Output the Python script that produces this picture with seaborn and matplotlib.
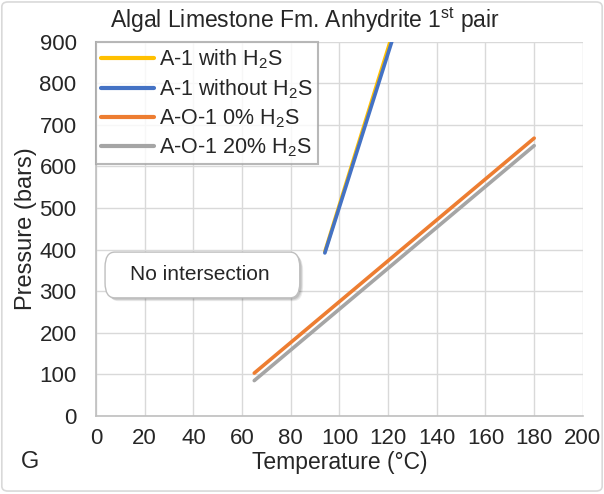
import numpy as np
import pandas as pd
import matplotlib
matplotlib.use("Agg")
import matplotlib.pyplot as plt
import seaborn as sns
from matplotlib.patches import FancyBboxPatch

# data

series_names = ["A-1 with H$_2$S", "A-1 without H$_2$S", "A-O-1 0% H$_2$S", "A-O-1 20% H$_2$S"]
a1_h2s_temp = [94, 120.8]
a1_h2s_pres = [395, 900]
a1_no_h2s_temp = [94, 121.5]
a1_no_h2s_pres = [392, 900]
ao1_0_temp = [65, 180]
ao1_0_pres = [103, 668]
ao1_20_temp = [65, 180]
ao1_20_pres = [85, 650]
colors = ["#FFC000", "#4472C4", "#ED7D31", "#A5A5A5"]

x_ticks = list(range(0, 201, 20))
y_ticks = list(range(0, 901, 100))

frames = []
for name, t, p in zip(series_names,
                      [a1_h2s_temp, a1_no_h2s_temp, ao1_0_temp, ao1_20_temp],
                      [a1_h2s_pres, a1_no_h2s_pres, ao1_0_pres, ao1_20_pres]):
    frames.append(pd.DataFrame({"Temperature": t, "Pressure": p, "series": name}))
df = pd.concat(frames, ignore_index=True)

sns.set_style("white")
plt.rcParams["font.family"] = ["Liberation Sans", "DejaVu Sans"]
plt.rcParams["mathtext.fontset"] = "custom"
plt.rcParams["mathtext.rm"] = "Liberation Sans"
plt.rcParams["mathtext.it"] = "Liberation Sans"

fig = plt.figure(figsize=(6.04, 4.94), dpi=100)
ax = fig.add_axes([0.159, 0.158, 0.806, 0.7576])

sns.lineplot(data=df, x="Temperature", y="Pressure", hue="series",
             palette=dict(zip(series_names, colors)), hue_order=series_names,
             linewidth=2.6, ax=ax, sort=False)

ax.set_xlim(0, 200)
ax.set_ylim(0, 900)
ax.set_xticks(x_ticks)
ax.set_yticks(y_ticks)
ax.tick_params(axis="both", length=0, labelsize=16)
ax.tick_params(axis="y", pad=14)
ax.tick_params(axis="x", pad=9)
ax.grid(True, color="#D9D9D9", linewidth=1)
ax.set_axisbelow(True)
for side in ["top", "right"]:
    ax.spines[side].set_visible(False)
for side in ["left", "bottom"]:
    ax.spines[side].set_color("#BFBFBF")
    ax.spines[side].set_linewidth(1.2)

ax.set_xlabel("Temperature (°C)", fontsize=16.5, labelpad=1)
ax.set_ylabel("Pressure (bars)", fontsize=17, labelpad=2)
fig.text(0.505, 0.958, "Algal Limestone Fm. Anhydrite 1$^{st}$ pair",
         fontsize=16.5, ha="center", va="center")

leg = ax.legend(loc="upper left", fontsize=15.5, frameon=True, fancybox=False,
                borderaxespad=0, handlelength=2.45, handletextpad=0.23,
                labelspacing=0.3, borderpad=0.25)
leg.get_frame().set_edgecolor("#A6A6A6")
leg.get_frame().set_linewidth(1.5)
for line in leg.get_lines():
    line.set_linewidth(3)

# text box with a soft shadow
for off, a in [(4, 0.07), (3, 0.09), (2, 0.11)]:
    shadow = FancyBboxPatch((3.7 + off * 0.35, 284 - off * 2), 80, 110,
                            boxstyle="round,pad=0,rounding_size=4",
                            mutation_aspect=9, facecolor="black", alpha=a,
                            edgecolor="none", zorder=4)
    ax.add_patch(shadow)
box = FancyBboxPatch((3.7, 284), 80, 110, boxstyle="round,pad=0,rounding_size=4",
                     mutation_aspect=9, facecolor="white", edgecolor="#BFBFBF",
                     linewidth=1, zorder=5)
ax.add_patch(box)
ax.text(42.5, 339, "No intersection", ha="center", va="center", fontsize=15, zorder=6)

fig.text(0.05, 0.065, "G", fontsize=17, ha="center", va="center")
fig.patches.append(FancyBboxPatch((0.003, 0.006), 0.994, 0.99,
                                  boxstyle="round,pad=0,rounding_size=0.01",
                                  transform=fig.transFigure, facecolor="none",
                                  edgecolor="#D9D9D9", linewidth=1.2))

fig.savefig("out.png", dpi=100)
